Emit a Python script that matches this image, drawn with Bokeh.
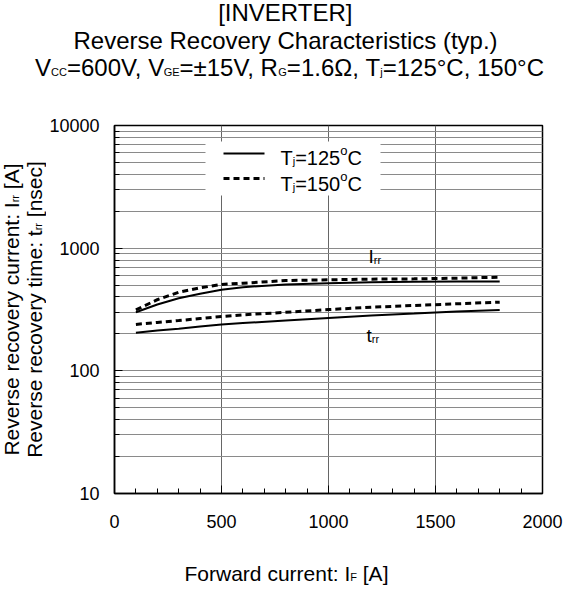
import math
from bokeh.plotting import figure
from bokeh.layouts import column, row
from bokeh.models import (FixedTicker, NumeralTickFormatter, Label, BoxAnnotation, Arrow)
from bokeh.embed import file_html
from bokeh.resources import INLINE

# ---------------- data ----------------
forward_current = [100, 200, 300, 400, 500, 600, 800, 1000, 1200, 1400, 1600, 1800]
irr_125 = [300, 347, 391, 425, 458, 481, 506, 518, 528, 532, 535, 535]
irr_150 = [314, 380, 437, 475, 506, 518, 545, 552, 559, 562, 569, 580]
trr_125 = [204, 213, 220, 230, 239, 245, 257, 270, 283, 293, 305, 314]
trr_150 = [239, 248, 257, 267, 277, 286, 300, 316, 330, 341, 352, 363]

x_ticks = [0, 500, 1000, 1500, 2000]
x_minor = list(range(0, 2001, 100))
y_ticks = [10, 100, 1000, 10000]
y_tick_labels = ["10", "100", "1000", "10000"]
y_minor = [m * 10 ** e for e in (1, 2, 3) for m in range(1, 10)]

FONT = "Liberation Sans"
NB = "\u00a0"   # non-breaking space (leading spaces are dropped otherwise)

# Arial / Liberation Sans advance widths (1/1000 em) for laying out rich text
W = {' ': 278, NB: 278, '!': 278, '(': 333, ')': 333, ',': 278, '-': 333, '.': 278,
     ':': 278, '=': 584, '[': 278, ']': 278, '±': 584, '°': 400, 'Ω': 768,
     'A': 667, 'B': 667, 'C': 722, 'D': 722, 'E': 667, 'F': 611, 'G': 778, 'H': 722,
     'I': 278, 'J': 500, 'K': 667, 'L': 556, 'M': 833, 'N': 722, 'O': 778, 'P': 667,
     'Q': 778, 'R': 722, 'S': 667, 'T': 611, 'U': 722, 'V': 667, 'W': 944, 'X': 667,
     'Y': 667, 'Z': 611,
     'a': 556, 'b': 556, 'c': 500, 'd': 556, 'e': 556, 'f': 278, 'g': 556, 'h': 556,
     'i': 222, 'j': 222, 'k': 500, 'l': 222, 'm': 833, 'n': 556, 'o': 556, 'p': 556,
     'q': 556, 'r': 333, 's': 500, 't': 278, 'u': 556, 'v': 500, 'w': 722, 'x': 500,
     'y': 500, 'z': 500}
KERN = {"V,": -111, " T": -18, "11": -74, "r,": -55, "y,": -74, " A": -55}
K_MID = 0.347   # anchor sits this fraction of the font size above the baseline


def tw(s, size):
    units = sum(W.get(c, 556) for c in s)
    units += sum(KERN.get(s[i:i + 2], 0) for i in range(len(s) - 1))
    return units / 1000.0 * size


# ---------------- layout geometry (global px) ----------------
TOTAL_W = 563
TOP_H = 88          # title strip
BOT_H = 41          # x-axis-title strip
LEFT_W = 46         # y-axis-title strip
MAIN_W = TOTAL_W - LEFT_W
MAIN_H = 457
FL, FT = 112, 125   # frame left / top (global)
FW, FH = 430, 368
FB = FT + FH
BORDER_T = FT - TOP_H
BORDER_B = MAIN_H - BORDER_T - FH


def blank(w, h, top=0, bottom=0):
    f = figure(width=w, height=h, x_range=(0, 1), y_range=(0, 1),
               output_backend="svg", toolbar_location=None, title=None,
               x_axis_location=None, y_axis_location=None, min_border=0)
    f.min_border_top = top
    f.min_border_bottom = bottom
    f.grid.visible = False
    f.outline_line_color = None
    f.background_fill_color = "white"
    f.border_fill_color = "white"
    return f


top_fig = blank(TOTAL_W, TOP_H)
left_fig = blank(LEFT_W, MAIN_H, top=BORDER_T, bottom=BORDER_B)
bot_fig = blank(TOTAL_W, BOT_H)

p = figure(width=MAIN_W, height=MAIN_H, x_range=(0, 2000), y_range=(10, 10000),
           y_axis_type="log", output_backend="svg", toolbar_location=None, title=None,
           min_border_left=FL - LEFT_W, min_border_top=BORDER_T,
           min_border_right=MAIN_W - (FL - LEFT_W) - FW,
           min_border_bottom=BORDER_B)
p.background_fill_color = "white"
p.border_fill_color = "white"
p.outline_line_color = "black"
p.outline_line_width = 1.5

# axes
p.xaxis.ticker = FixedTicker(ticks=x_ticks, minor_ticks=x_minor)
p.yaxis.ticker = FixedTicker(ticks=y_ticks, minor_ticks=y_minor)
p.yaxis.formatter = NumeralTickFormatter(format="0")
p.yaxis.major_label_overrides = dict(zip(y_ticks, y_tick_labels))
for ax in (p.xaxis[0], p.yaxis[0]):
    ax.axis_line_color = "black"
    ax.axis_line_width = 1.5
    ax.major_tick_line_color = "black"
    ax.minor_tick_line_color = "black"
    ax.major_tick_out = 0
    ax.minor_tick_out = 0
    ax.major_tick_in = 8
    ax.minor_tick_in = 5
    ax.major_label_text_font = FONT
    ax.major_label_text_font_size = "18px"
    ax.major_label_text_color = "black"
p.yaxis.major_label_standoff = 15
p.xaxis.major_label_standoff = 21

# grid
p.xgrid.ticker = FixedTicker(ticks=x_ticks)
p.xgrid.grid_line_color = "#666666"
p.xgrid.grid_line_width = 1
p.ygrid.ticker = FixedTicker(ticks=y_ticks, minor_ticks=y_minor)
p.ygrid.grid_line_color = "#8a8a8a"
p.ygrid.minor_grid_line_color = "#8a8a8a"
p.ygrid.grid_line_width = 1

# curves
p.line(forward_current, irr_125, line_color="black", line_width=2)
p.line(forward_current, trr_125, line_color="black", line_width=2)
p.line(forward_current, irr_150, line_color="black", line_width=3, line_dash="6 4")
p.line(forward_current, trr_150, line_color="black", line_width=3, line_dash="6 4")


def rich(fig, ox, obottom, parts, gx, gy, align="center", vertical=False):
    """Place a run of text pieces (text, size[, rise]) on one baseline (gx, gy global).
    ox / obottom: global x of fig frame left, global y of fig frame bottom."""
    widths = [tw(pt[0], pt[1]) for pt in parts]
    total = sum(widths)
    off = -total / 2 if align == "center" else 0.0
    for pt, w in zip(parts, widths):
        t, s = pt[0], pt[1]
        rise = (pt[2] if len(pt) > 2 else 0) + K_MID * s
        if vertical:
            lab = Label(x=(gx - rise) - ox, y=(obottom - gy) + off, angle=math.pi / 2,
                        x_units="screen", y_units="screen", text=t)
        else:
            lab = Label(x=(gx + off) - ox, y=obottom - (gy - rise),
                        x_units="screen", y_units="screen", text=t)
        lab.text_font = FONT
        lab.text_font_size = f"{s}px"
        lab.text_color = "black"
        lab.text_align = "left"
        lab.text_baseline = "alphabetic"
        fig.add_layout(lab)
        off += w


TS, SS, AS = 24, 11, 21

# title (three lines)
rich(top_fig, 0, TOP_H, [("[INVERTER]", TS)], 285, 20)
rich(top_fig, 0, TOP_H, [("Reverse Recovery Characteristics (typ.)", TS)], 285, 48)
rich(top_fig, 0, TOP_H,
     [("V", TS), ("CC", SS), ("=600V, V", TS), ("GE", SS), ("=±15V, R", TS), ("G", SS),
      ("=1.6Ω, T", TS), ("j", SS), ("=125°C, 150°C", TS)], 289, 75)

# axis titles
rich(bot_fig, 0, TOP_H + MAIN_H + BOT_H,
     [("Forward current: I", AS), ("F", SS), (NB + "[A]", AS)], 286, 580)
rich(left_fig, 0, FB,
     [("Reverse recovery current: I", AS), ("rr", SS), (NB + "[A]", AS)], 18, FT + FH / 2,
     vertical=True)
rich(left_fig, 0, FB,
     [("Reverse recovery time: t", AS), ("rr", SS), (NB + "[nsec]", AS)], 41, FT + FH / 2,
     vertical=True)

# curve labels (inside the frame)
rich(p, FL, FB, [("I", 19), ("rr", SS)], 366, 263, align="left")
rich(p, FL, FB, [("t", 19), ("rr", SS)], 364, 342, align="left")

# legend: white box, sample lines, texts
p.add_layout(BoxAnnotation(left=203 - FL, right=378 - FL, top=FB - 141, bottom=FB - 195,
                           left_units="screen", right_units="screen",
                           top_units="screen", bottom_units="screen",
                           fill_color="white", fill_alpha=1.0, line_color=None))
p.add_layout(Arrow(x_start=221 - FL, y_start=FB - 153, x_end=262 - FL, y_end=FB - 153,
                   start_units="screen", end_units="screen", end=None,
                   line_color="black", line_width=2))
p.add_layout(Arrow(x_start=221 - FL, y_start=FB - 178, x_end=262 - FL, y_end=FB - 178,
                   start_units="screen", end_units="screen", end=None,
                   line_color="black", line_width=3, line_dash="6 4"))
LS = 20
rich(p, FL, FB, [("T", LS), ("j", SS), ("=125", LS), ("o", 13, 9), ("C", LS)], 278, 164,
     align="left")
rich(p, FL, FB, [("T", LS), ("j", SS), ("=150", LS), ("o", 13, 9), ("C", LS)], 278, 190,
     align="left")

layout = column(top_fig, row(left_fig, p), bot_fig)
open("out.html", "w").write(file_html(layout, INLINE))
